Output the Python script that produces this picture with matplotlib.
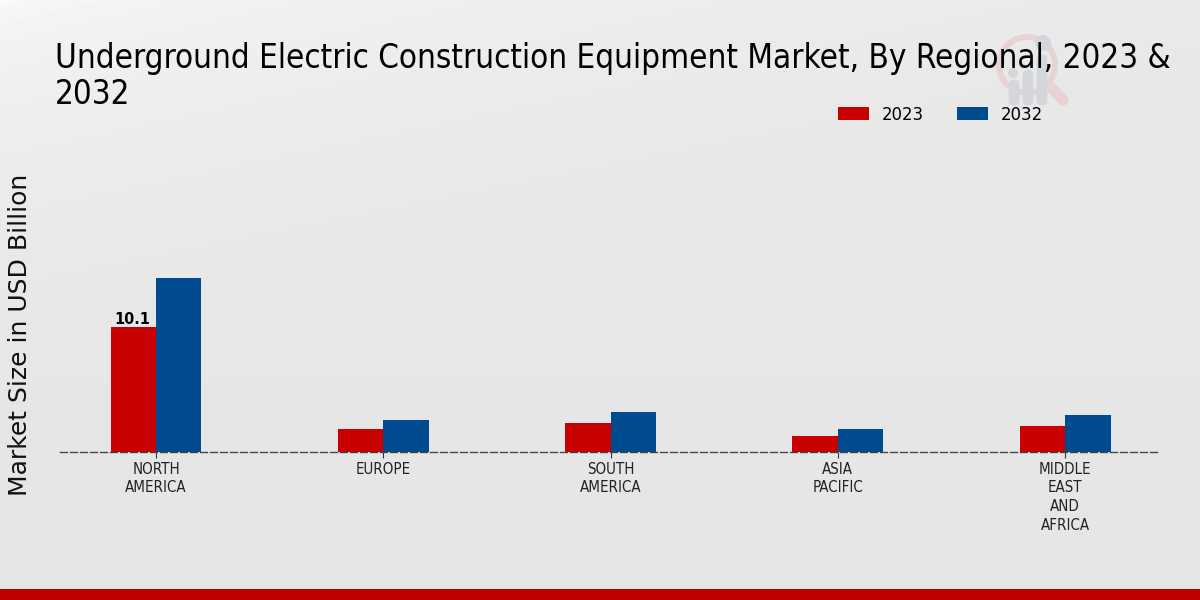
import matplotlib
matplotlib.use("Agg")
import matplotlib.pyplot as plt
from matplotlib.patches import Circle, FancyBboxPatch, Rectangle
import numpy as np

regions = ["NORTH\nAMERICA", "EUROPE", "SOUTH\nAMERICA", "ASIA\nPACIFIC", "MIDDLE\nEAST\nAND\nAFRICA"]
values_2023 = [10.1, 1.86, 2.34, 1.3, 2.1]
values_2032 = [14.06, 2.55, 3.27, 1.82, 3.0]
title_lines = ["Underground Electric Construction Equipment Market, By Regional, 2023 &", "2032"]
ylabel = "Market Size in USD Billion"

RED = "#c80000"
BLUE = "#004a8f"
W, H = 1200, 600

fig = plt.figure(figsize=(12, 6), dpi=100)

# background gradient, light top left to grey bottom right
bg = fig.add_axes([0, 0, 1, 1], zorder=0)
yy, xx = np.mgrid[0:1:300j, 0:1:600j]
shade = np.clip((xx * 0.45 + yy * 0.9) / 0.55, 0, 1) ** 0.3
shade = 0.995 - shade * 0.085 - yy * 0.012
bg.imshow(shade, cmap="gray", vmin=0, vmax=1, extent=[0, W, H, 0], aspect="auto")
bg.axis("off")

# footer band
bg.add_patch(Rectangle((0, 589), W, 11, color="#c00000", lw=0))

# faint logo behind the title
logo_red = "#e8d2d3"
logo_grey = "#d3d6da"
bg.add_patch(Circle((1027, 65), 28, fill=False, ec=logo_red, lw=4.3))
bg.plot([1052, 1063], [88, 100], color=logo_red, lw=8, solid_capstyle="round")
for cx, top, bottom in [(1014, 80, 105), (1028, 70, 105), (1042, 55, 105)]:
    bg.add_patch(FancyBboxPatch((cx - 5, top), 10, bottom - top, boxstyle="round,pad=0,rounding_size=5", fc=logo_grey, ec=logo_grey, lw=0.5))
bg.add_patch(Circle((1043, 43), 8, fc=logo_grey, ec="none"))
bg.add_patch(Circle((1013, 73), 5, fc=logo_grey, ec="none"))
bg.set_xlim(0, W)
bg.set_ylim(H, 0)

ax = fig.add_axes([60 / W, 1 - 452 / H, 1100 / W, 322 / H], zorder=1)
ax.patch.set_alpha(0)

x = np.arange(len(regions))
bar_width = 0.2
ax.bar(x - bar_width / 2, values_2023, width=bar_width, color=RED, label="2023")
ax.bar(x + bar_width / 2, values_2032, width=bar_width, color=BLUE, label="2032")

ax.set_xlim(-0.4225, 4.4175)
ax.set_ylim(0, 322 / 12.376)
ax.set_xticks(x)
ax.set_xticklabels(regions, fontsize=10.8, stretch="condensed", linespacing=1.31)
ax.tick_params(axis="x", length=4, width=0.8, color="#333333", pad=3, labelcolor="#222222")
ax.set_yticks([])

for side in ("top", "right", "left"):
    ax.spines[side].set_visible(False)
ax.spines["bottom"].set_linestyle((0, (5, 2.2)))
ax.spines["bottom"].set_color("#444444")
ax.spines["bottom"].set_linewidth(1)

ax.text(x[0] - 0.025, values_2023[0] - 0.02, "10.1", ha="right", va="bottom", fontsize=11.6, fontweight="bold", stretch="condensed", color="black")

for line, top in zip(title_lines, (42, 78)):
    fig.text(55 / W, 1 - top / H, line, fontsize=23.75, stretch="condensed", va="top", ha="left", color="black")
fig.text(20 / W, 1 - 335 / H, ylabel, fontsize=18, rotation=90, va="center", ha="center", color="#111111")

ax.legend(loc="upper left", bbox_to_anchor=(761 / 1100, 1.127), ncol=2, frameon=False,
          prop={"size": 13.2, "stretch": "condensed"}, handlelength=1.72, handleheight=0.7,
          handletextpad=0.7, columnspacing=1.78, borderpad=0.4)

fig.savefig("out.png", dpi=100)
plt.close(fig)
